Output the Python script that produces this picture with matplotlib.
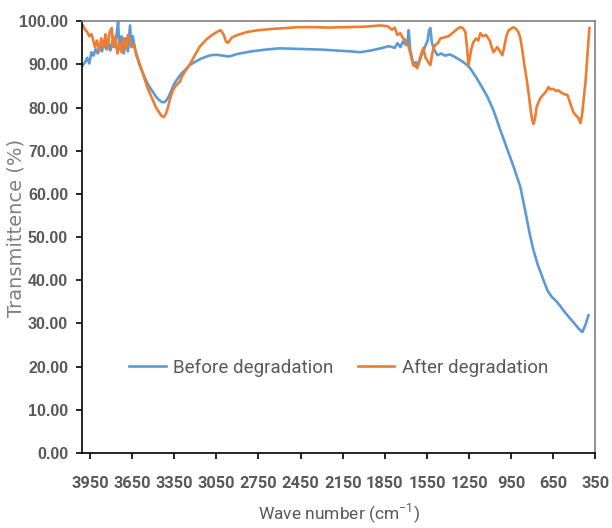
import numpy as np
import matplotlib.pyplot as plt
from matplotlib.ticker import FormatStrFormatter

# FTIR spectra, wavenumber (cm-1) vs transmittance (%)
wn_before = [4000, 3985, 3970, 3955, 3940, 3925, 3910, 3895, 3880, 3865, 3850, 3835,
             3820, 3805, 3790, 3775, 3760, 3750, 3740, 3725, 3710, 3695, 3680, 3665,
             3655, 3645, 3630, 3615, 3600, 3580, 3560, 3540, 3520, 3500, 3480, 3460,
             3440, 3425, 3410, 3390, 3370, 3350, 3330, 3300, 3270, 3240, 3200, 3160,
             3120, 3090, 3050, 3000, 2960, 2900, 2800, 2700, 2600, 2500, 2400, 2300,
             2200, 2100, 2025, 1950, 1880, 1820, 1780, 1760, 1740, 1720, 1700, 1690,
             1680, 1670, 1660, 1647, 1630, 1612, 1595, 1580, 1560, 1545, 1535, 1526,
             1515, 1500, 1476, 1450, 1420, 1390, 1362, 1330, 1291, 1260, 1241, 1200,
             1160, 1120, 1077, 1030, 980, 930, 885, 850, 820, 792, 760, 720,
             690, 660, 630, 600, 578, 540, 500, 470, 443, 420, 400]
t_before = [89.8, 90.5, 91.5, 90.2, 92.8, 92.0, 93.5, 92.5, 94.5, 93.0, 95.2, 93.5,
            95.0, 93.2, 95.5, 94.0, 97.0, 99.8, 93.5, 96.5, 92.5, 96.0, 93.0, 99.0,
            94.0, 96.5, 93.5, 92.0, 90.0, 88.5, 87.0, 85.5, 84.5, 83.5, 82.5, 81.8,
            81.3, 81.2, 81.5, 82.5, 84.0, 85.5, 86.5, 87.8, 88.8, 89.8, 90.6, 91.3,
            91.8, 92.1, 92.2, 92.0, 91.8, 92.4, 93.0, 93.4, 93.7, 93.6, 93.5, 93.4,
            93.2, 93.0, 92.8, 93.2, 93.7, 94.2, 93.8, 94.9, 94.0, 95.3, 94.5, 95.1,
            97.9, 93.5, 92.0, 89.8, 90.5, 89.8, 91.5, 92.8, 94.4, 95.5, 98.0, 98.4,
            95.0, 93.5, 92.1, 92.5, 92.0, 92.3, 91.9, 91.3, 90.5, 89.7, 89.0, 87.0,
            84.8, 82.5, 79.4, 75.0, 70.5, 66.0, 61.6, 56.0, 51.0, 47.0, 43.5, 40.0,
            37.5, 36.1, 35.2, 34.0, 33.0, 31.5, 30.0, 28.8, 28.0, 29.8, 31.9]

wn_after = [4000, 3985, 3970, 3955, 3940, 3930, 3915, 3900, 3885, 3870, 3855, 3840,
            3825, 3810, 3795, 3785, 3770, 3755, 3740, 3725, 3710, 3695, 3680, 3665,
            3650, 3635, 3620, 3600, 3580, 3560, 3540, 3520, 3500, 3480, 3460, 3440,
            3425, 3410, 3395, 3380, 3360, 3340, 3310, 3290, 3260, 3230, 3200, 3166,
            3120, 3080, 3040, 3020, 3000, 2980, 2966, 2940, 2900, 2830, 2750, 2650,
            2550, 2474, 2350, 2250, 2118, 2000, 1883, 1830, 1800, 1780, 1761, 1740,
            1720, 1700, 1680, 1665, 1647, 1630, 1619, 1605, 1590, 1576, 1560, 1540,
            1526, 1515, 1505, 1490, 1470, 1455, 1430, 1400, 1384, 1360, 1330, 1312,
            1295, 1277, 1265, 1255, 1245, 1235, 1220, 1200, 1185, 1170, 1150, 1130,
            1113, 1100, 1090, 1077, 1060, 1049, 1030, 1013, 1000, 985, 970, 950,
            934, 915, 900, 885, 870, 855, 840, 825, 810, 800, 792, 780,
            770, 756, 740, 720, 700, 685, 670, 650, 630, 615, 600, 580,
            565, 550, 535, 520, 507, 490, 470, 457, 445, 435, 421, 410,
            400, 393]
t_after = [99.0, 98.0, 97.5, 96.5, 97.0, 96.0, 94.0, 95.5, 93.0, 96.0, 94.0, 97.0,
           93.5, 97.5, 98.4, 94.0, 96.5, 92.5, 95.0, 92.8, 96.0, 93.5, 96.8, 95.0,
           94.0, 94.5, 92.0, 90.5, 88.5, 86.5, 84.5, 83.0, 81.5, 80.0, 79.0, 78.0,
           77.8, 78.5, 80.0, 82.0, 84.0, 85.0, 86.0, 87.5, 89.0, 90.5, 92.3, 94.2,
           95.8, 96.8, 97.6, 97.9, 97.0, 95.2, 95.0, 96.2, 96.8, 97.5, 97.9, 98.2,
           98.4, 98.6, 98.6, 98.5, 98.6, 98.7, 99.0, 98.8, 98.0, 98.5, 96.8, 97.2,
           96.0, 95.5, 94.0, 92.0, 89.8, 89.5, 89.1, 91.0, 92.5, 93.8, 91.5, 90.5,
           89.8, 92.0, 93.7, 94.5, 95.0, 96.0, 96.2, 96.5, 96.8, 97.5, 98.3, 98.6,
           98.4, 97.5, 94.0, 89.8, 91.5, 93.5, 95.1, 96.0, 95.5, 97.2, 96.5, 96.8,
           96.0, 95.3, 94.0, 92.8, 93.5, 94.0, 93.0, 92.1, 94.0, 96.5, 97.8, 98.3,
           98.6, 98.2, 97.5, 96.1, 93.0, 89.5, 86.5, 83.0, 79.0, 77.0, 76.2, 77.5,
           80.0, 81.2, 82.3, 83.0, 83.8, 84.7, 84.2, 84.3, 83.8, 84.0, 83.6, 83.2,
           83.0, 82.9, 81.5, 80.0, 78.9, 78.2, 77.5, 76.4, 78.5, 81.5, 85.9, 91.0,
           95.5, 98.4]

x_ticks = list(range(3950, 349, -300))
y_ticks = list(range(0, 101, 10))

blue = '#5b9bd5'
orange = '#ed7d31'
grey = '#595959'

fig = plt.figure(figsize=(6.12, 5.28), dpi=100)
ax = fig.add_axes([0.134, 0.142, 0.839, 0.818])

ax.plot(wn_before, t_before, color=blue, lw=1.9, label='Before degradation')
ax.plot(wn_after, t_after, color=orange, lw=1.9, label='After degradation')

ax.set_xlim(4007, 350)
ax.set_ylim(0, 100)
ax.set_xticks(x_ticks)
ax.set_yticks(y_ticks)
ax.yaxis.set_major_formatter(FormatStrFormatter('%.2f'))

for s in ['left', 'bottom']:
    ax.spines[s].set_color('black')
    ax.spines[s].set_linewidth(1.2)
for s in ['top', 'right']:
    ax.spines[s].set_color('#7f7f7f')
    ax.spines[s].set_linewidth(1.2)

ax.tick_params(axis='y', direction='out', length=4, width=1.2, pad=6)
ax.tick_params(axis='x', direction='out', length=4.5, width=1.2, pad=12)
for lab in ax.get_yticklabels():
    lab.set_fontfamily('Liberation Sans')
    lab.set_fontweight('bold')
    lab.set_fontsize(11.5)
    lab.set_color(grey)
for lab in ax.get_xticklabels():
    lab.set_fontfamily('Roboto')
    lab.set_fontweight('bold')
    lab.set_fontsize(11.8)
    lab.set_color(grey)

ax.set_xlabel(r'Wave number (cm$^{\mathregular{-1}}$)', family='Roboto',
              fontsize=12.5, color=grey, labelpad=8)
ax.set_ylabel('Transmittence (%)', family='DejaVu Sans', fontsize=14,
              color='#808080')
ax.yaxis.set_label_coords(-0.11, 0.52)

ax.legend(loc='center', bbox_to_anchor=(0.5, 0.197), ncol=2, frameon=False,
          prop={'family': 'Roboto', 'size': 13.5},
          labelcolor=grey, handlelength=1.95, handletextpad=0.4,
          columnspacing=1.3)

fig.savefig('out.png', dpi=100)
